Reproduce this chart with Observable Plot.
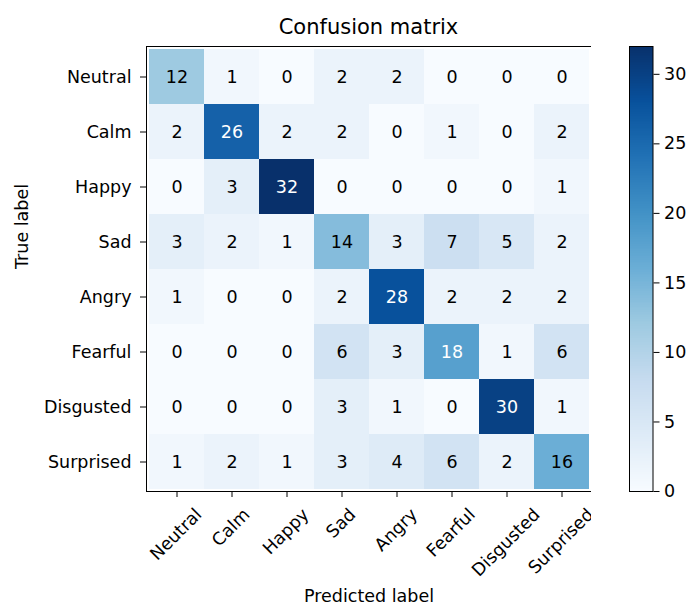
<!DOCTYPE html>
<html>
<head>
<meta charset="utf-8">
<script src="https://cdn.jsdelivr.net/npm/d3@7"></script>
<script src="https://cdn.jsdelivr.net/npm/@observablehq/plot@0.6"></script>
<style>
  html, body { margin: 0; padding: 0; background: #fff; }
  #fig { width: 688px; height: 606px; font-family: "DejaVu Sans", sans-serif; color: #000; }
  #title { box-sizing: border-box; height: 36px; padding-top: 17px; line-height: 1; font-size: 21px;
           width: 591px; padding-left: 146px; text-align: center; }
  #title span { display: inline-block; width: 445px; text-align: center; }
  #row { display: flex; flex-direction: row; }
  svg { display: block; }
</style>
</head>
<body>
<div id="fig">
  <div id="title"><span>Confusion matrix</span></div>
  <div id="row"></div>
</div>
<script>
// ---- data ----
const classLabels = ["Neutral", "Calm", "Happy", "Sad", "Angry", "Fearful", "Disgusted", "Surprised"];
const rowNeutral   = [12, 1, 0, 2, 2, 0, 0, 0];
const rowCalm      = [2, 26, 2, 2, 0, 1, 0, 2];
const rowHappy     = [0, 3, 32, 0, 0, 0, 0, 1];
const rowSad       = [3, 2, 1, 14, 3, 7, 5, 2];
const rowAngry     = [1, 0, 0, 2, 28, 2, 2, 2];
const rowFearful   = [0, 0, 0, 6, 3, 18, 1, 6];
const rowDisgusted = [0, 0, 0, 3, 1, 0, 30, 1];
const rowSurprised = [1, 2, 1, 3, 4, 6, 2, 16];
const colorbarTicks = [0, 5, 10, 15, 20, 25, 30];
const titleText = "Confusion matrix";
const xLabel = "Predicted label";
const yLabel = "True label";

// ---- build ----
const matrix = [rowNeutral, rowCalm, rowHappy, rowSad, rowAngry, rowFearful, rowDisgusted, rowSurprised];
const cells = [];
matrix.forEach((row, i) => row.forEach((v, j) => cells.push({ trueLabel: classLabels[i], predLabel: classLabels[j], value: v })));
const vmax = d3.max(cells, d => d.value);
const vmin = 0;
const thresh = vmax / 2;

const colorScale = {
  type: "linear",
  domain: d3.range(9).map(i => vmin + (vmax - vmin) * i / 8),
  range: d3.schemeBlues[9],
  interpolate: "rgb"
};

const fontSize = 17.5;
const fontStyle = { fontFamily: "DejaVu Sans, sans-serif", fontSize: fontSize + "px", color: "#000", background: "#fff", overflow: "visible" };

// matplotlib-style rotated labels: rotated bbox centered on the tick, its top just below tick + pad
const measureCtx = document.createElement("canvas").getContext("2d");
measureCtx.font = `${fontSize}px "DejaVu Sans"`;
const rot = 45 * Math.PI / 180;
const labelBoxHalf = new Map(classLabels.map(l => {
  const w = measureCtx.measureText(l).width;
  const h = fontSize * 1.164;
  return [l, (w * Math.sin(rot) + h * Math.cos(rot)) / 2];
}));
const labelPad = 13;

const heat = Plot.plot({
  width: 591,
  height: 570,
  marginLeft: 146,
  marginRight: 0,
  marginTop: 10,
  marginBottom: 115,
  style: fontStyle,
  x: { domain: classLabels, padding: 0, axis: null, label: null },
  y: { domain: classLabels, padding: 0, axis: null, label: null },
  color: colorScale,
  marks: [
    Plot.cell(cells, { x: "predLabel", y: "trueLabel", fill: "value", inset: 0, shapeRendering: "crispEdges" }),
    Plot.text(cells.filter(d => d.value <= thresh), { x: "predLabel", y: "trueLabel", text: d => String(d.value), fill: "#000", fontSize }),
    Plot.text(cells.filter(d => d.value > thresh), { x: "predLabel", y: "trueLabel", text: d => String(d.value), fill: "#fff", fontSize }),
    Plot.axisY({ tickSize: 6, tickPadding: 9, fontSize, label: null }),
    Plot.axisX({ tickSize: 6, tickFormat: () => "", label: null }),
    // one text mark per label so each gets its own vertical offset (depends on its measured length)
    ...classLabels.map(l => Plot.text([l], {
      x: d => d, frameAnchor: "bottom", rotate: -45, textAnchor: "middle", lineAnchor: "middle",
      dx: -1, dy: labelPad + labelBoxHalf.get(l), fontSize
    })),
    Plot.text([yLabel], { frameAnchor: "left", rotate: -90, dx: -124, fontSize }),
    Plot.text([xLabel], { frameAnchor: "bottom", dy: 110, fontSize }),
    Plot.frame({ stroke: "#000", strokeWidth: 1 })
  ]
});

const nSteps = 256;
const steps = d3.range(nSteps).map(i => ({ lo: vmin + (vmax - vmin) * i / nSteps, hi: vmin + (vmax - vmin) * (i + 1) / nSteps }));

const cbar = Plot.plot({
  width: 97,
  height: 570,
  marginLeft: 38,
  marginRight: 35.5,
  marginTop: 10,
  marginBottom: 115,
  style: fontStyle,
  x: { axis: null },
  y: { domain: [vmin, vmax], axis: null },
  color: colorScale,
  marks: [
    Plot.rect(steps, { y1: "lo", y2: "hi", fill: d => (d.lo + d.hi) / 2, inset: 0, shapeRendering: "crispEdges" }),
    Plot.axisY({ anchor: "right", ticks: colorbarTicks, tickSize: 6, tickPadding: 5, fontSize, label: null, tickFormat: d => String(d) }),
    Plot.frame({ stroke: "#000", strokeWidth: 1 })
  ]
});

document.querySelector("#title span").textContent = titleText;
const row = document.getElementById("row");
row.appendChild(heat);
row.appendChild(cbar);
</script>
</body>
</html>
